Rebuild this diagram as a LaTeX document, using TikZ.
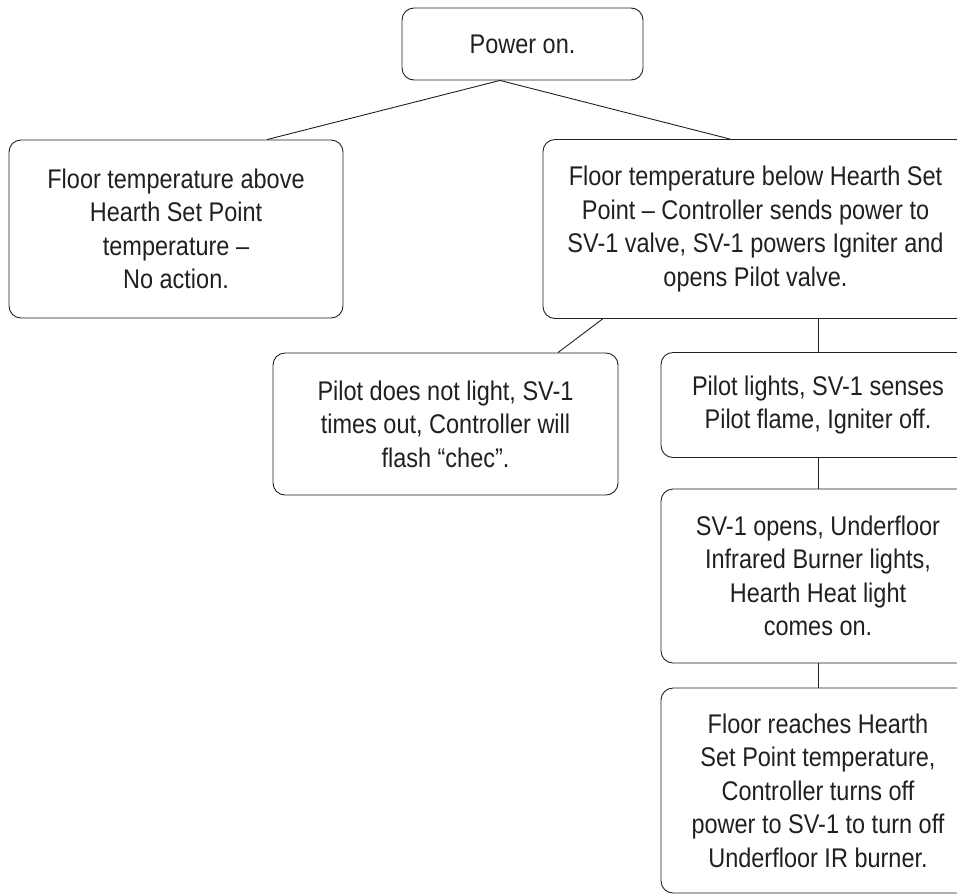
\documentclass[tikz,border=0pt]{standalone}
\usepackage{fontspec}
\setmainfont{Liberation Sans}[FakeStretch=0.87]
\usetikzlibrary{calc}
\definecolor{ink}{HTML}{231F20}
\tikzset{
  box/.style={draw=ink, line width=0.9pt, rounded corners=12pt, align=center,
    text=ink, font=\fontsize{27}{33.5}\selectfont, inner sep=0pt},
  link/.style={draw=ink, line width=0.9pt}
}
\begin{document}
\begin{tikzpicture}[x=1pt,y=-1pt]
\useasboundingbox (0,0) rectangle (957,895);
\clip (0,0) rectangle (957,895);
\node[box, minimum width=241pt, minimum height=72pt] (pw) at (522.5,44) {Power on.};
\node[box, minimum width=334pt, minimum height=178pt] (lf) at (176,229)
  {Floor temperature above\\Hearth Set Point\\temperature --\\No action.};
\node[box, minimum width=425pt, minimum height=179pt] (rt) at (755.5,229)
  {Floor temperature below Hearth Set\\Point -- Controller sends power to\\SV-1 valve, SV-1 powers Igniter and\\opens Pilot valve.};
\node[box, minimum width=345pt, minimum height=142pt] (fl) at (445.5,424)
  {Pilot does not light, SV-1\\times out, Controller will\\flash “chec”.};
\node[box, minimum width=314pt, minimum height=105pt] (lt) at (818,405)
  {Pilot lights, SV-1 senses\\Pilot flame, Igniter off.};
\node[box, minimum width=314pt, minimum height=174pt] (op) at (818,576)
  {SV-1 opens, Underfloor\\Infrared Burner lights,\\Hearth Heat light\\comes on.};
\node[box, minimum width=314pt, minimum height=205pt] (re) at (818,790.5)
  {Floor reaches Hearth\\Set Point temperature,\\Controller turns off\\power to SV-1 to turn off\\Underfloor IR burner.};
\draw[link] ([xshift=-22.5pt]pw.south) -- ([xshift=91pt]lf.north);
\draw[link] ([xshift=-22.5pt]pw.south) -- ([xshift=-25.5pt]rt.north);
\draw[link] ([xshift=60pt]rt.south west) -- ([xshift=112.5pt]fl.north);
\draw[link] (lt.north) -- (lt.north |- rt.south);
\draw[link] (lt.south) -- (op.north);
\draw[link] (op.south) -- (re.north);
\end{tikzpicture}
\end{document}
